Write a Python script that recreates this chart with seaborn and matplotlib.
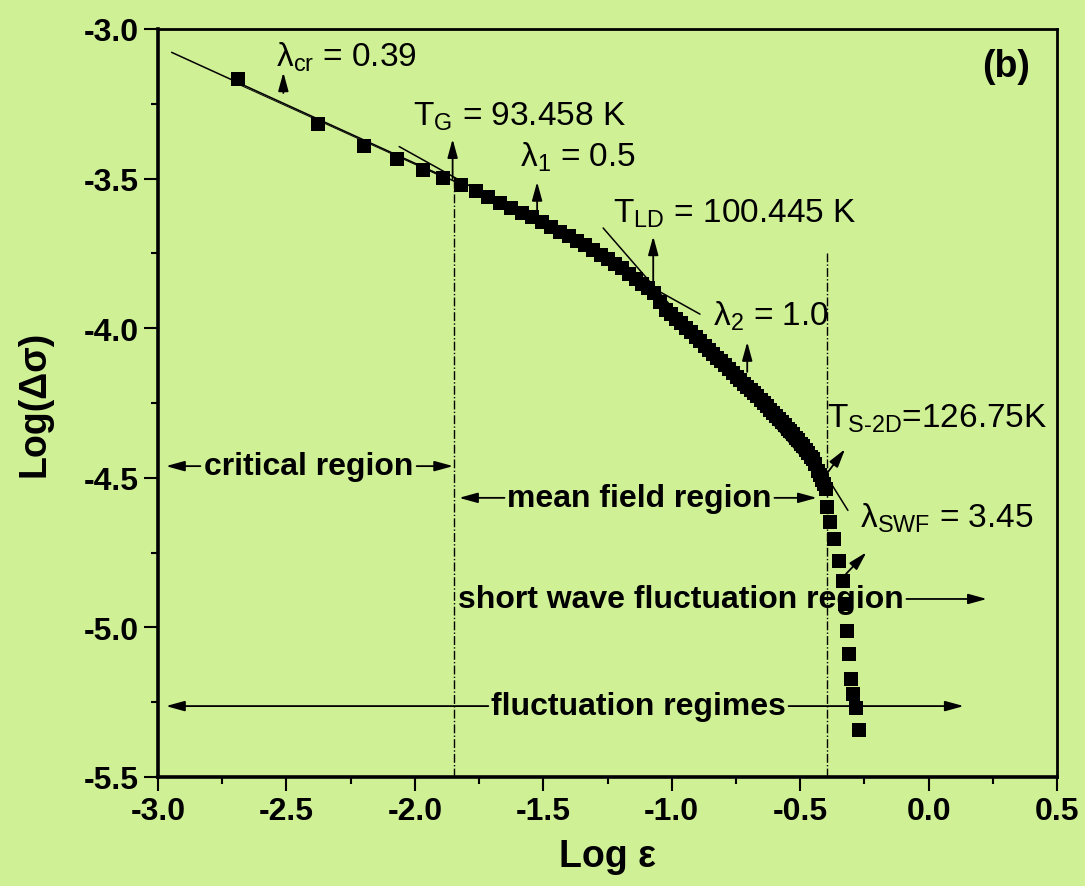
import matplotlib
matplotlib.use("Agg")
import matplotlib.pyplot as plt
import seaborn as sns
import pandas as pd
from matplotlib.ticker import MultipleLocator

# ---------------- data ----------------
log_eps = [-2.687, -2.376, -2.198, -2.069, -1.970, -1.889, -1.822, -1.763, -1.714,
           -1.669, -1.626, -1.583, -1.544, -1.505, -1.470, -1.435, -1.400, -1.369,
           -1.338, -1.307, -1.276, -1.248, -1.221, -1.194, -1.167, -1.139, -1.116,
           -1.093, -1.069, -1.046, -1.023, -1.003, -0.984, -0.964, -0.945, -0.925,
           -0.906, -0.890, -0.871, -0.855, -0.840, -0.824, -0.808, -0.793, -0.777,
           -0.762, -0.746, -0.735, -0.719, -0.707, -0.692, -0.680, -0.668, -0.653,
           -0.641, -0.629, -0.618, -0.606, -0.594, -0.583, -0.571, -0.559, -0.548,
           -0.540, -0.528, -0.517, -0.509, -0.497, -0.489, -0.478, -0.470, -0.458,
           -0.450, -0.443, -0.431, -0.423, -0.415, -0.408, -0.400,
           -0.396, -0.384, -0.369, -0.349, -0.334, -0.326, -0.318, -0.310, -0.302,
           -0.295, -0.283, -0.271]
log_dsigma = [-3.167, -3.318, -3.390, -3.434, -3.470, -3.498, -3.520, -3.542, -3.562,
              -3.582, -3.598, -3.615, -3.630, -3.645, -3.661, -3.677, -3.692, -3.707,
              -3.722, -3.739, -3.755, -3.770, -3.785, -3.800, -3.818, -3.836, -3.851,
              -3.866, -3.884, -3.911, -3.939, -3.954, -3.969, -3.984, -3.999, -4.014,
              -4.029, -4.042, -4.058, -4.072, -4.085, -4.098, -4.111, -4.123, -4.136,
              -4.149, -4.162, -4.172, -4.185, -4.195, -4.208, -4.218, -4.227, -4.240,
              -4.250, -4.261, -4.272, -4.282, -4.293, -4.304, -4.315, -4.325, -4.336,
              -4.343, -4.354, -4.366, -4.375, -4.387, -4.395, -4.408, -4.416, -4.429,
              -4.437, -4.453, -4.476, -4.491, -4.507, -4.522, -4.537,
              -4.598, -4.648, -4.705, -4.778, -4.845, -4.922, -5.012, -5.089, -5.172,
              -5.223, -5.269, -5.343]

# fit lines (endpoints)
fit_cr_x = [-2.947, -1.805]
fit_cr_y = [-3.078, -3.525]
fit_cr2_x = [-2.681, -1.883]
fit_cr2_y = [-3.187, -3.498]
fit_1_x = [-2.061, -0.890]
fit_1_y = [-3.393, -3.953]
fit_2_x = [-1.267, -0.415]
fit_2_y = [-3.665, -4.507]
fit_swf_x = [-0.431, -0.314]
fit_swf_y = [-4.448, -4.609]

# vertical markers (T_G and T_S-2D)
tg_x, tg_y = -1.849, [-5.5, -3.501]
ts_x, ts_y = -0.397, [-5.5, -3.749]

# annotation texts and pointer arrows
labels = [
    (r"$\mathregular{\lambda_{cr}}$ = 0.39", -2.539, -3.123),
    (r"$\mathregular{T_{G}}$ = 93.458 K", -2.007, -3.318),
    (r"$\mathregular{\lambda_{1}}$ = 0.5", -1.591, -3.455),
    (r"$\mathregular{T_{LD}}$ = 100.445 K", -1.229, -3.645),
    (r"$\mathregular{\lambda_{2}}$ = 1.0", -0.840, -3.988),
    (r"$\mathregular{T_{S\text{-}2D}}$=126.75K", -0.397, -4.330),
    (r"$\mathregular{\lambda_{SWF}}$ = 3.45", -0.267, -4.664),
]
pointers = [  # (x_from, y_from, x_to, y_to)
    (-2.512, -3.214, -2.512, -3.145),
    (-1.853, -3.501, -1.853, -3.368),
    (-1.524, -3.612, -1.524, -3.511),
    (-1.072, -3.869, -1.072, -3.693),
    (-0.706, -4.146, -0.706, -4.046),
    (-0.397, -4.487, -0.325, -4.404),
    (-0.322, -4.822, -0.242, -4.749),
]
# region arrows: (text, y, left tip, text left, text right, right tip)
regions = [
    ("critical region", -4.461, -2.969, -2.825, -2.003, -1.851),
    ("mean field region", -4.567, -1.828, -1.641, -0.610, -0.435),
    ("short wave fluctuation region", -4.905, None, -1.830, -0.096, 0.227),
    ("fluctuation regimes", -5.263, -2.969, -1.704, -0.555, 0.137),
]

xticks = [-3.0, -2.5, -2.0, -1.5, -1.0, -0.5, 0.0, 0.5]
yticks = [-3.0, -3.5, -4.0, -4.5, -5.0, -5.5]

# ---------------- style ----------------
BG = "#D0F096"
sns.set_style("ticks")
plt.rcParams["font.family"] = ["Liberation Sans", "DejaVu Sans"]
plt.rcParams["mathtext.fontset"] = "custom"
plt.rcParams["mathtext.rm"] = "Liberation Sans"
plt.rcParams["mathtext.it"] = "Liberation Sans:italic"
plt.rcParams["mathtext.bf"] = "Liberation Sans:bold"
for key in ["text.color", "axes.labelcolor", "xtick.color", "ytick.color",
            "axes.edgecolor"]:
    plt.rcParams[key] = "black"

fig = plt.figure(figsize=(10.85, 8.87), dpi=100, facecolor=BG)
ax = fig.add_axes([158 / 1085, 1 - 778 / 887, 899 / 1085, 748 / 887])
ax.set_facecolor(BG)

df = pd.DataFrame({"x": log_eps, "y": log_dsigma})
sns.scatterplot(data=df, x="x", y="y", marker="s", s=115, color="black",
                linewidth=0, ax=ax, zorder=5, legend=False)

for xs, ys, lw in [(fit_cr_x, fit_cr_y, 1.1), (fit_cr2_x, fit_cr2_y, 0.7),
                   (fit_1_x, fit_1_y, 1.1), (fit_2_x, fit_2_y, 1.1),
                   (fit_swf_x, fit_swf_y, 1.1)]:
    ax.plot(xs, ys, color="black", lw=lw, zorder=4)

ax.plot([tg_x, tg_x], tg_y, color="black", lw=1.0, ls="-.", zorder=3)
ax.plot([ts_x, ts_x], ts_y, color="black", lw=1.0, ls="-.", zorder=3)

for txt, x, y in labels:
    ax.text(x, y, txt, fontsize=24, ha="left", va="baseline", zorder=6)

aprops = dict(arrowstyle="-|>,head_length=0.8,head_width=0.22", color="black",
              lw=1.3, shrinkA=0, shrinkB=0, mutation_scale=14)
for x0, y0, x1, y1 in pointers:
    ax.annotate("", xy=(x1, y1), xytext=(x0, y0), arrowprops=aprops, zorder=6)

for txt, y, lt, tl, tr, rt in regions:
    ax.text((tl + tr) / 2, y, txt, fontsize=23, fontweight="bold",
            ha="center", va="center", zorder=6)
    if lt is not None:
        ax.annotate("", xy=(lt, y), xytext=(tl - 0.01, y), arrowprops=aprops, zorder=6)
    ax.annotate("", xy=(rt, y), xytext=(tr + 0.01, y), arrowprops=aprops, zorder=6)

ax.text(0.210, -3.157, "(b)", fontsize=27, fontweight="bold", ha="left",
        va="baseline", zorder=6)

ax.set_xlim(-3.0, 0.5)
ax.set_ylim(-5.5, -3.0)
ax.set_xticks(xticks)
ax.set_yticks(yticks)
ax.set_xticklabels([f"{v:.1f}" for v in xticks])
ax.set_yticklabels([f"{v:.1f}" for v in yticks])
ax.xaxis.set_minor_locator(MultipleLocator(0.25))
ax.yaxis.set_minor_locator(MultipleLocator(0.25))
ax.tick_params(which="major", direction="out", length=10, width=1.5,
               labelsize=23, pad=4, top=False, right=False, colors="black")
ax.tick_params(which="minor", direction="out", length=5, width=1.5,
               top=False, right=False, colors="black")
for lab in ax.get_xticklabels() + ax.get_yticklabels():
    lab.set_fontweight("bold")

for side in ["left", "bottom"]:
    ax.spines[side].set_linewidth(2.6)
for side in ["top", "right"]:
    ax.spines[side].set_linewidth(2.0)
    ax.spines[side].set_visible(True)
for side in ax.spines:
    ax.spines[side].set_color("black")

ax.set_xlabel("Log ε", fontsize=27, fontweight="bold", labelpad=8)
ax.set_ylabel("Log(Δσ)", fontsize=27, fontweight="bold", labelpad=22)

fig.savefig("out.png", dpi=100, facecolor=BG)
